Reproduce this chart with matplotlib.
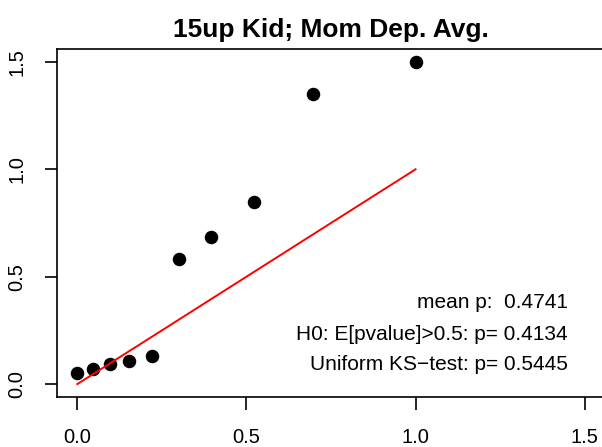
import matplotlib
matplotlib.use("Agg")
import matplotlib.pyplot as plt

x_vals = [0.0, 0.045, 0.096, 0.154, 0.221, 0.300, 0.396, 0.522, 0.698, 1.0]
y_vals = [0.050, 0.070, 0.094, 0.108, 0.132, 0.582, 0.683, 0.850, 1.352, 1.5]
ref_line = [0.0, 1.0]
ticks = [0.0, 0.5, 1.0, 1.5]
tick_labels = ["0.0", "0.5", "1.0", "1.5"]
title = "15up Kid; Mom Dep. Avg."
annotations = ["mean p:  0.4741", "H0: E[pvalue]>0.5: p= 0.4134", "Uniform KS\u2212test: p= 0.5445"]

plt.rcParams['font.family'] = ['Liberation Sans', 'DejaVu Sans']

W, H = 602, 447
fig = plt.figure(figsize=(W/100, H/100), dpi=100)
left, right, top, bottom = 57, 605, 49, 397
ax = fig.add_axes([left/W, (H-bottom)/H, (right-left)/W, (bottom-top)/H])
ax.set_xlim(-0.06, 1.56)
ax.set_ylim(-0.06, 1.56)

ax.plot(x_vals, y_vals, 'o', color='black', markersize=8.7, clip_on=False)
ax.plot(ref_line, ref_line, color='red', linewidth=1.4)

ax.set_xticks(ticks)
ax.set_xticklabels(tick_labels)
ax.set_yticks(ticks)
ax.set_yticklabels(tick_labels, rotation=90, va='center')
ax.tick_params(axis='both', direction='out', length=9, width=1.2, labelsize=14.5, pad=13)
ax.tick_params(axis='y', pad=13)
for s in ax.spines.values():
    s.set_linewidth(1.2)

fig.text((left + 0.5*(right-left))/W, (H-30)/H, title, ha='center', va='center',
         fontsize=19, fontweight='bold')

ys = [303, 335, 365]
for t, yp in zip(annotations, ys):
    fig.text(568/W, (H-yp)/H, t, ha='right', va='center', fontsize=15)

fig.savefig("out.png", dpi=100)
